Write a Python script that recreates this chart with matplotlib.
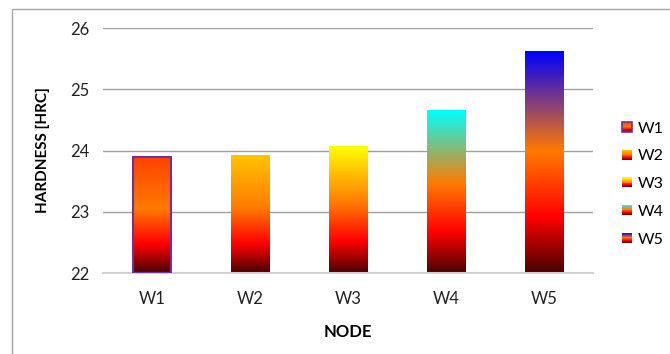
import matplotlib
matplotlib.use("Agg")
import matplotlib.pyplot as plt
import numpy as np
from matplotlib.colors import LinearSegmentedColormap
from matplotlib.legend_handler import HandlerBase
from matplotlib.patches import Rectangle

nodes = ["W1", "W2", "W3", "W4", "W5"]
hardness = [23.9, 23.92, 24.07, 24.65, 25.62]
top_colors = ["#ff4200", "#ffc400", "#ffff00", "#00ffff", "#0000ff"]
y_ticks = [22, 23, 24, 25, 26]

plt.rcParams["font.family"] = ["Lato", "DejaVu Sans"]


def bar_cmap(top):
    stops = [(0.0, "#4a0000"), (0.25, "#ff0000"), (0.55, "#ff7a00"), (1.0, top)]
    return LinearSegmentedColormap.from_list("bar", stops)


class GradientHandler(HandlerBase):
    def __init__(self, top, edge=None):
        super().__init__()
        self.cmap = bar_cmap(top)
        self.edge = edge

    def create_artists(self, legend, orig_handle, xdescent, ydescent,
                       width, height, fontsize, trans):
        size = height * 0.85
        x0 = xdescent + width - size
        y0 = -ydescent + (height - size) / 2
        n = 10
        artists = []
        for i in range(n):
            r = Rectangle((x0, y0 + i * size / n), size, size / n + 0.3,
                          facecolor=self.cmap((i + 0.5) / n), edgecolor="none",
                          transform=trans)
            artists.append(r)
        if self.edge:
            artists.append(Rectangle((x0, y0), size, size, facecolor="none",
                                     edgecolor=self.edge, linewidth=1.2,
                                     transform=trans))
        return artists


fig = plt.figure(figsize=(6.7, 3.54), dpi=100)
ax = fig.add_axes([0.1537, 0.2288, 0.7313, 0.6921])

# outer chart border
fig.patches.append(Rectangle((12 / 670, -0.1), 1.2, 1 - 9 / 354 + 0.1,
                             transform=fig.transFigure, facecolor="none",
                             edgecolor="#a6a6a6", linewidth=1.0))

x = np.arange(len(nodes))
bars = ax.bar(x, np.array(hardness) - 22, bottom=22, width=0.39,
              color="none", edgecolor="none")
grad = np.linspace(0, 1, 256).reshape(-1, 1)
for b, top in zip(bars, top_colors):
    x0 = b.get_x()
    ax.imshow(grad, cmap=bar_cmap(top), origin="lower", aspect="auto",
              extent=[x0, x0 + b.get_width(), 22, b.get_y() + b.get_height()],
              zorder=2)
# purple outline on first bar
b0 = bars[0]
ax.add_patch(Rectangle((b0.get_x(), 22), b0.get_width(), b0.get_height(),
                       facecolor="none", edgecolor="#7030a0", linewidth=1.5,
                       zorder=3))

ax.set_xlim(-0.5, len(nodes) - 0.5)
ax.set_ylim(22, 26)
ax.set_yticks(y_ticks)
ax.set_xticks(x)
ax.set_xticklabels(nodes)
ax.yaxis.grid(True, color="#a0a0a0", linewidth=1.0)
ax.set_axisbelow(True)
for s in ["left", "right", "top"]:
    ax.spines[s].set_visible(False)
ax.spines["bottom"].set_color("#d0d0d0")
ax.spines["bottom"].set_linewidth(1.5)
ax.tick_params(length=0, colors="#222222")
ax.tick_params(axis="y", labelsize=12, pad=10)
ax.tick_params(axis="x", labelsize=12, pad=13)

ax.set_ylabel("HARDNESS [HRC]", fontsize=11, fontweight="bold", labelpad=14)
ax.set_xlabel("NODE", fontsize=12, fontweight="bold", labelpad=12)

handles = [Rectangle((0, 0), 1, 1) for _ in nodes]
handler_map = {h: GradientHandler(c, "#7030a0" if i == 0 else None)
               for i, (h, c) in enumerate(zip(handles, top_colors))}
fig.legend(handles, nodes, handler_map=handler_map, loc="upper left",
           bbox_to_anchor=(0.918, 0.675), frameon=False, fontsize=11.5,
           handlelength=0.65, handletextpad=0.4, labelspacing=0.85,
           borderaxespad=0)

fig.savefig("out.png", dpi=100)
